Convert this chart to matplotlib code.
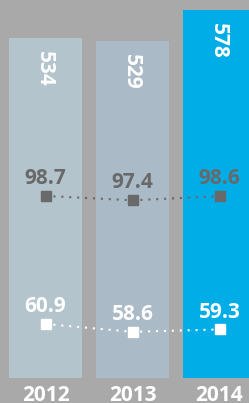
import numpy as np
import matplotlib.pyplot as plt

plt.rcParams['font.family'] = ['Open Sans', 'DejaVu Sans']

# data
years = ["2012", "2013", "2014"]
bar_values = [534, 529, 578]
upper_values = [98.7, 97.4, 98.6]
lower_values = [60.9, 58.6, 59.3]

bar_colors = ["#b3c4cc", "#aabbc7", "#00ade7"]
bg = "#a9a9a9"
dark = "#696969"

fig = plt.figure(figsize=(2.49, 4.03), dpi=100, facecolor=bg)
ax = fig.add_axes([0, 0, 1, 1])
ax.set_facecolor(bg)

x = np.arange(len(years))
ax.bar(x, bar_values, width=0.839, color=bar_colors, zorder=1)
ax.set_xlim(-0.523, 2.339)
ax.set_ylim(-39.2, 593.4)
ax.axis("off")

# bar value labels, rotated
for i, v in enumerate(bar_values):
    ax.annotate(str(v), (x[i], v), xytext=(-0.7, -9.5), textcoords="offset points",
                rotation=-90, ha="center", va="top", color="white",
                fontsize=15, fontweight="bold")

# year labels under bars
for i, y in enumerate(years):
    ax.annotate(y, (x[i], 0), xytext=(0, -16.6), textcoords="offset points",
                ha="center", va="baseline", color="white",
                fontsize=15, fontweight="bold", annotation_clip=False)

# dotted lines with square markers on a second scale
ax2 = ax.twinx()
ax2.set_ylim(37.6, 156.5)
ax2.axis("off")
ax2.plot(x, upper_values, color=dark, linestyle=(0, (1, 2.8)), linewidth=1.5,
         marker="s", markersize=7.2, zorder=3)
ax2.plot(x, lower_values, color="white", linestyle=(0, (1, 2.8)), linewidth=1.5,
         marker="s", markersize=7.2, zorder=3)

for i in range(len(years)):
    ax2.annotate(f"{upper_values[i]}", (x[i], upper_values[i]), xytext=(0, 8.6),
                 textcoords="offset points", ha="center", va="baseline",
                 color=dark, fontsize=15, fontweight="bold")
    ax2.annotate(f"{lower_values[i]}", (x[i], lower_values[i]), xytext=(0, 8.6),
                 textcoords="offset points", ha="center", va="baseline",
                 color="white", fontsize=15, fontweight="bold")

plt.savefig("out.png", dpi=100, facecolor=bg)
